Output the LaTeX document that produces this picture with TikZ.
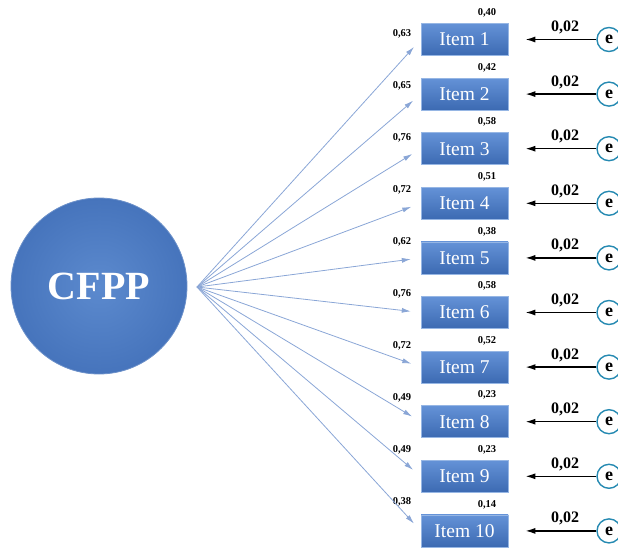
\documentclass[tikz,border=0pt]{standalone}
\usepackage{fontspec}
\setmainfont{Liberation Serif}
\usetikzlibrary{arrows.meta}
\definecolor{boxtop}{RGB}{100,146,215}
\definecolor{boxbot}{RGB}{60,106,178}
\definecolor{boxrim}{RGB}{150,182,228}
\definecolor{ballin}{RGB}{92,138,206}
\definecolor{ballout}{RGB}{70,116,188}
\definecolor{loadblue}{RGB}{138,166,214}
\definecolor{errteal}{RGB}{38,138,178}
% one indicator: number, y of box, loading, R2, y of loading label
\def\itemrow#1#2#3#4#5{
		\node[itembox] (item#1) at (464.5, #2) {Item #1};
		\node[errcirc] (e#1) at (609, #2) {e};
		\node[smalllab] (rsq#1) at (487, {#2-26.5}) {#4};
		\node[smalllab] (lam#1) at (402, #5) {#3};
		\node[errlab] (err#1) at (565, {#2-12}) {0,02};
		\draw[loadarrow] (apex) -- (item#1.west);
		\draw[errarrow] (e#1) -- (item#1);
}

\begin{document}
\begin{tikzpicture}[x=1pt, y=-1pt,
		itembox/.style={draw=boxrim, line width=0.6pt, top color=boxtop, bottom color=boxbot,
			minimum width=87pt, minimum height=32pt, inner sep=0pt, text=white, font=\fontsize{19.5}{20}\selectfont},
		errcirc/.style={circle, draw=errteal, line width=1.4pt, fill=white, minimum size=24pt, inner sep=0pt,
			font=\fontsize{18}{18}\selectfont\bfseries},
		smalllab/.style={inner sep=0pt, font=\fontsize{10.5}{10.5}\selectfont\bfseries},
		errlab/.style={inner sep=0pt, font=\fontsize{16}{16}\selectfont\bfseries},
		loadarrow/.style={draw=loadblue, line width=0.8pt, shorten >=10pt, -{Latex[length=9pt, width=5pt]}},
		errarrow/.style={draw=black, line width=1.5pt, shorten >=17pt, -{Latex[length=10pt, width=6pt]}}]
		%%%%% START %%%%%
		\useasboundingbox (0, 0) rectangle (618, 548);
		
		\node[circle, minimum size=176pt, inner sep=0pt, inner color=ballin, outer color=ballout,
			draw=ballout!80!white, line width=0.8pt, text=white,
			font=\fontsize{40}{40}\selectfont\bfseries] (cfpp) at (99, 286) {CFPP};
		\coordinate (apex) at (197, 287);
		
		\itemrow{1}{39.5}{0,63}{0,40}{34}
		\itemrow{2}{94.1}{0,65}{0,42}{86}
		\itemrow{3}{148.7}{0,76}{0,58}{138}
		\itemrow{4}{203.3}{0,72}{0,51}{190}
		\itemrow{5}{257.9}{0,62}{0,38}{242}
		\itemrow{6}{312.5}{0,76}{0,58}{294}
		\itemrow{7}{367.1}{0,72}{0,52}{346}
		\itemrow{8}{421.7}{0,49}{0,23}{398}
		\itemrow{9}{476.3}{0,49}{0,23}{450}
		\itemrow{10}{530.9}{0,38}{0,14}{502}
		
		%%%%% END %%%%%
\end{tikzpicture}
\end{document}
